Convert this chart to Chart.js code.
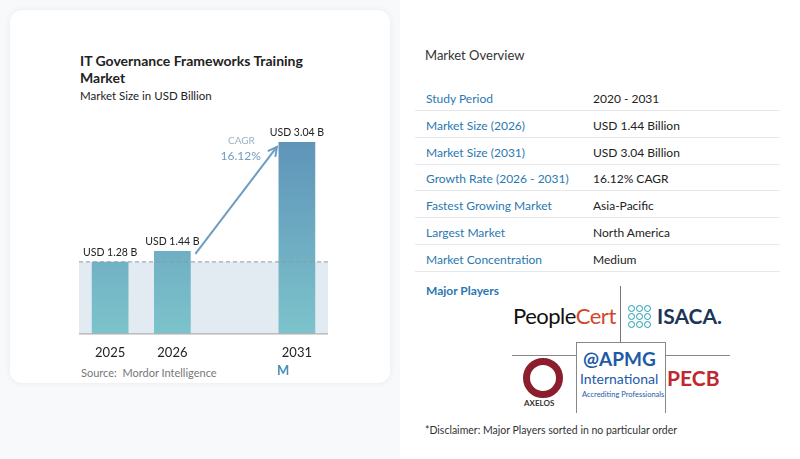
<!DOCTYPE html>
<html><head><meta charset="utf-8">
<script src="https://cdn.jsdelivr.net/npm/chart.js@4"></script>
<style>
body{margin:0;width:800px;height:459px;background:#f8f9fa;font-family:Lato,"Open Sans",sans-serif;position:relative;overflow:hidden}
.card{position:absolute;left:10px;top:10px;width:380px;height:373px;background:#fff;border-radius:12px;box-shadow:0 0 6px rgba(0,0,0,.07)}
.right{position:absolute;left:400px;top:0;width:400px;height:459px;background:#fff}
.t{position:absolute;color:#222}
#wrap{position:absolute;left:60px;top:112px;width:290px;height:253px}
.row{position:absolute;left:415px;width:365px;height:26px;border-bottom:1px solid #e6e8eb;font-size:12px}
.row span{position:absolute;top:7px}
.row .k{left:11px;color:#2a78b0}
.row .v{left:178px;color:#222}
.dot{position:absolute;width:5px;height:5px;border:1.5px solid #1a9fb0;border-radius:50%}
</style></head><body>
<div class="card"></div>
<div class="right"></div>
<div class="t" style="left:80px;top:52px;font-size:14px;font-weight:bold;line-height:17px">IT Governance Frameworks Training<br>Market</div>
<div class="t" style="left:80px;top:89px;font-size:11.5px">Market Size in USD Billion</div>
<div id="wrap"><canvas id="c"></canvas></div>
<div class="t" style="left:81px;top:366px;font-size:11px;color:#777">Source:&nbsp; Mordor Intelligence</div>
<div class="t" style="left:277px;top:362px;font-size:13px;font-weight:bold;color:#4a90b8">M</div>
<div class="t" style="left:425px;top:47px;font-size:13px;color:#333">Market Overview</div>
<div id="rows"></div>
<div id="isaca"></div>
<div class="t" style="left:426px;top:283px;font-size:12px;font-weight:bold;color:#2a78b0">Major Players</div>
<div class="t" style="left:513px;top:302px;font-size:22px;color:#111;letter-spacing:-0.5px">People<span style="color:#d5462a">Cert</span></div>
<div style="position:absolute;left:620px;top:286px;width:1px;height:56px;background:#777"></div>
<div class="t" style="left:657px;top:303px;font-size:21px;font-weight:bold;color:#1d3557">ISACA.</div>
<div style="position:absolute;left:512px;top:355px;width:218px;height:1px;background:#888"></div>
<div style="position:absolute;left:576px;top:342px;width:88px;height:70px;border:1px solid #888;border-bottom:none;background:#fff"></div>
<div class="t" style="left:523px;top:358px;width:40px;height:40px;border-radius:50%;border:7px solid #8b1d2c;box-sizing:border-box"></div>
<div class="t" style="left:524px;top:398px;font-size:8px;font-weight:bold;color:#333">AXELOS</div>
<div class="t" style="left:583px;top:347px;font-size:19px;font-weight:bold;color:#1e5aa8">@APMG</div>
<div class="t" style="left:580px;top:370px;font-size:14px;color:#1e5aa8">International</div>
<div class="t" style="left:582px;top:390px;font-size:7.5px;color:#1e5aa8">Accrediting Professionals</div>
<div class="t" style="left:667px;top:365px;font-size:21px;font-weight:bold;color:#c0282f">PECB</div>
<div class="t" style="left:425px;top:424px;font-size:10.5px;color:#333">*Disclaimer: Major Players sorted in no particular order</div>
<script>
const years = ['2025', '2026', '', '2031'];
const values = [1.28, 1.44, null, 3.04];
const valueLabels = ['USD 1.28 B', 'USD 1.44 B', '', 'USD 3.04 B'];
const cagr = '16.12%';
const rowKeys = ['Study Period', 'Market Size (2026)', 'Market Size (2031)', 'Growth Rate (2026 - 2031)', 'Fastest Growing Market', 'Largest Market', 'Market Concentration'];
const rowVals = ['2020 - 2031', 'USD 1.44 Billion', 'USD 3.04 Billion', '16.12% CAGR', 'Asia-Pacific', 'North America', 'Medium'];

let html = '';
rowKeys.forEach((k, i) => {
  html += `<div class="row" style="top:${84 + i * 26.8}px"><span class="k">${k}</span><span class="v">${rowVals[i]}</span></div>`;
});
document.getElementById('rows').innerHTML = html;

// ISACA logo dots
let dots = '';
for (let r = 0; r < 3; r++) for (let q = 0; q < 3; q++)
  dots += `<div class="dot" style="left:${628 + q * 8}px;top:${305 + r * 8}px"></div>`;
document.getElementById('isaca').innerHTML = dots;

const deco = {
  id: 'deco',
  beforeDatasetsDraw(chart) {
    const {ctx, chartArea: a, scales: {y}} = chart;
    const yb = y.getPixelForValue(values[0]);
    ctx.save();
    ctx.fillStyle = '#e3ebf2';
    ctx.fillRect(a.left, yb, a.right - a.left, a.bottom - yb);
    ctx.restore();
  },
  afterDatasetsDraw(chart) {
    const {ctx, chartArea: a, scales: {x, y}} = chart;
    const yb = y.getPixelForValue(values[0]);
    ctx.save();
    ctx.strokeStyle = '#8a9aa8';
    ctx.setLineDash([4, 3]);
    ctx.beginPath(); ctx.moveTo(a.left, yb); ctx.lineTo(a.right, yb); ctx.stroke();
    ctx.setLineDash([]);
    ctx.strokeStyle = '#999'; ctx.beginPath(); ctx.moveTo(a.left, a.bottom + 0.5); ctx.lineTo(a.right, a.bottom + 0.5); ctx.stroke();
    ctx.fillStyle = '#222'; ctx.font = '10.5px Lato'; ctx.textAlign = 'center';
    values.forEach((v, i) => {
      if (v == null) return;
      ctx.fillText(valueLabels[i], x.getPixelForValue(i), y.getPixelForValue(v) - 6);
    });
    const x1 = x.getPixelForValue(1) + 23, y1 = y.getPixelForValue(values[1]) + 3;
    const x2 = x.getPixelForValue(3) - 20, y2 = y.getPixelForValue(values[3]) + 5;
    ctx.strokeStyle = '#6e9cc0'; ctx.lineWidth = 2;
    ctx.beginPath(); ctx.moveTo(x1, y1); ctx.lineTo(x2, y2); ctx.stroke();
    const ang = Math.atan2(y2 - y1, x2 - x1);
    ctx.beginPath();
    ctx.moveTo(x2 - 10 * Math.cos(ang - 0.5), y2 - 10 * Math.sin(ang - 0.5));
    ctx.lineTo(x2, y2);
    ctx.lineTo(x2 - 10 * Math.cos(ang + 0.5), y2 - 10 * Math.sin(ang + 0.5));
    ctx.stroke();
    ctx.textAlign = 'right';
    ctx.fillStyle = '#9ab3c6'; ctx.font = '10px Lato';
    ctx.fillText('CAGR', x2 - 22, y2 - 3);
    ctx.fillStyle = '#6e9cc0'; ctx.font = '12px Lato';
    ctx.fillText(cagr, x2 - 16, y2 + 13);
    ctx.restore();
  }
};

const c = document.getElementById('c');
new Chart(c, {
  type: 'bar',
  data: {
    labels: years,
    datasets: [{
      data: values,
      backgroundColor: (cx) => {
        const a = cx.chart.chartArea;
        if (!a) return '#6a9fc0';
        const g = cx.chart.ctx.createLinearGradient(0, a.top, 0, a.bottom);
        g.addColorStop(0, '#5a8db6'); g.addColorStop(1, '#7cc3cb');
        return g;
      },
      barPercentage: 0.59, categoryPercentage: 1
    }]
  },
  options: {
    responsive: true, maintainAspectRatio: false, animation: false,
    layout: {padding: {left: 19, right: 22, top: 0}},
    plugins: {legend: {display: false}, tooltip: {enabled: false}},
    scales: {
      x: {grid: {display: false}, border: {display: false},
          ticks: {color: '#222', font: {size: 13, family: 'Lato'}, padding: 4}},
      y: {display: false, min: 0.23, max: 3.48}
    }
  },
  plugins: [deco]
});
</script>
</body></html>
